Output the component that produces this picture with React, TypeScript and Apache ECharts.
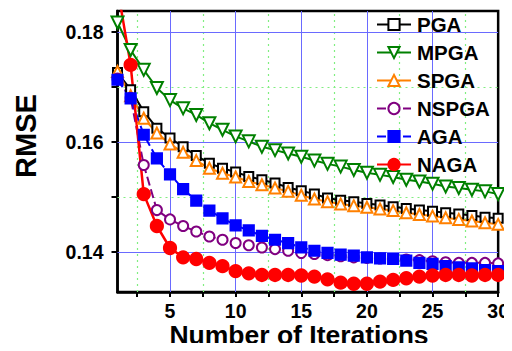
import React, { useEffect, useRef } from "react";
import * as echarts from "echarts";

const iterations = [1, 2, 3, 4, 5, 6, 7, 8, 9, 10, 11, 12, 13, 14, 15, 16, 17, 18, 19, 20, 21, 22, 23, 24, 25, 26, 27, 28, 29, 30];

const pga = [0.1726, 0.1695, 0.1655, 0.1625, 0.1607, 0.1591, 0.1575, 0.1561, 0.1552, 0.1545, 0.1537, 0.1531, 0.1525, 0.1517, 0.1511, 0.1505, 0.1498, 0.1494, 0.1491, 0.1488, 0.1485, 0.1482, 0.1479, 0.1476, 0.1474, 0.1471, 0.1469, 0.1466, 0.1463, 0.1461];
const mpga = [0.1817, 0.1767, 0.1731, 0.1698, 0.1676, 0.1661, 0.1649, 0.1634, 0.1622, 0.161, 0.1601, 0.1591, 0.1585, 0.1579, 0.1573, 0.1566, 0.156, 0.1555, 0.1549, 0.1544, 0.154, 0.1536, 0.1531, 0.1528, 0.1524, 0.1519, 0.1516, 0.1513, 0.151, 0.1505];
const spga = [0.1728, 0.1684, 0.1643, 0.1616, 0.1596, 0.1581, 0.1566, 0.1552, 0.1543, 0.1536, 0.1528, 0.1522, 0.1516, 0.151, 0.1503, 0.1496, 0.1491, 0.1487, 0.1484, 0.1481, 0.1478, 0.1475, 0.1471, 0.1468, 0.1465, 0.1462, 0.1459, 0.1456, 0.1453, 0.145];
const nspga = [0.1715, 0.168, 0.1558, 0.1476, 0.1459, 0.1447, 0.1437, 0.1428, 0.1422, 0.1416, 0.1412, 0.1408, 0.1405, 0.1402, 0.1398, 0.1396, 0.1394, 0.1392, 0.139, 0.1389, 0.1388, 0.1387, 0.1386, 0.1385, 0.1383, 0.1381, 0.138, 0.138, 0.138, 0.1379];
const aga = [0.1713, 0.1679, 0.1613, 0.157, 0.1541, 0.1514, 0.1493, 0.1475, 0.1461, 0.1448, 0.1439, 0.1429, 0.1422, 0.1416, 0.1408, 0.1402, 0.1398, 0.1395, 0.1393, 0.139, 0.1388, 0.1387, 0.1384, 0.138, 0.1378, 0.1374, 0.1372, 0.137, 0.1367, 0.1365];
const naga = [0.188, 0.174, 0.1505, 0.1447, 0.1407, 0.139, 0.1387, 0.138, 0.1374, 0.1365, 0.1361, 0.1358, 0.1358, 0.1358, 0.1357, 0.1355, 0.135, 0.1344, 0.1342, 0.1342, 0.1346, 0.1349, 0.1352, 0.1355, 0.1357, 0.1358, 0.1358, 0.1357, 0.1358, 0.1358];

const xTickLabels = [5, 10, 15, 20, 25, 30];
const xMinorTicks = [2.5, 7.5, 12.5, 17.5, 22.5, 27.5];
const yTickLabels = [0.14, 0.16, 0.18];
const yMinorTicks = [0.15, 0.17];

const seriesNames = ["PGA", "MPGA", "SPGA", "NSPGA", "AGA", "NAGA"];

const FONT = "'Liberation Sans', Arial, sans-serif";

function pairs(vals: number[]) {
  return iterations.map((x, i) => [x, vals[i]]);
}

export default function App() {
  const ref = useRef<HTMLDivElement>(null);
  useEffect(() => {
    if (!ref.current) return;
    const chart = echarts.init(ref.current, null, { renderer: "svg" });
    const majorLine = { type: "solid", color: "#6a6aff", width: 1 };
    const minorLine = { type: [2, 4], color: "#80ee80", width: 1.2 };
    const gridLines = [
      ...xTickLabels.filter((v) => v < 30).map((v) => ({ xAxis: v, lineStyle: majorLine })),
      ...xMinorTicks.map((v) => ({ xAxis: v, lineStyle: minorLine })),
      ...yTickLabels.map((v) => ({ yAxis: v, lineStyle: majorLine })),
      ...yMinorTicks.map((v) => ({ yAxis: v, lineStyle: minorLine })),
    ];
    const mk = (
      name: string,
      vals: number[],
      color: string,
      symbol: string,
      size: number,
      extra: any = {}
    ) => ({
      name,
      type: "line",
      data: pairs(vals),
      symbol,
      symbolSize: size,
      showAllSymbol: true,
      lineStyle: { color, width: 2, ...(extra.lineStyle || {}) },
      itemStyle: { color, borderColor: color, borderWidth: 2.2 },
      symbolRotate: extra.rotate || 0,
      z: extra.z || 2,
    });
    chart.setOption({
      animation: false,
      backgroundColor: "#fff",
      grid: {
        left: 117.5,
        right: 13,
        top: 11,
        bottom: 59,
        show: true,
        borderColor: "#000",
        borderWidth: 2.5,
        backgroundColor: "transparent",
      },
      legend: {
        orient: "vertical",
        left: 376,
        top: 14,
        padding: 0,
        itemWidth: 34,
        itemHeight: 14,
        itemGap: 7,
        data: seriesNames,
        textStyle: {
          fontFamily: FONT,
          fontWeight: "bold",
          fontSize: 20.5,
          lineHeight: 20,
          color: "#000",
          padding: [0, 0, 0, 1],
        },
      },
      xAxis: {
        type: "value",
        min: 1,
        max: 30,
        axisLine: { show: true, onZero: false, lineStyle: { color: "#000", width: 2.5 } },
        axisTick: {
          show: true,
          inside: false,
          length: 5,
          lineStyle: { color: "#000", width: 2 },
          customValues: [...xMinorTicks, ...xTickLabels].sort((a, b) => a - b),
        },
        axisLabel: {
          customValues: xTickLabels,
          margin: 8.5,
          fontFamily: FONT,
          fontWeight: "bold",
          fontSize: 19.5,
          color: "#000",
        },
        splitLine: { show: false },
      },
      yAxis: {
        type: "value",
        min: 0.1327,
        max: 0.1838,
        axisLine: { show: true, onZero: false, lineStyle: { color: "#000", width: 2.5 } },
        axisTick: {
          show: true,
          inside: false,
          length: 6,
          lineStyle: { color: "#000", width: 2 },
          customValues: [...yTickLabels, ...yMinorTicks].sort((a, b) => a - b),
        },
        axisLabel: {
          customValues: yTickLabels,
          margin: 14,
          fontFamily: FONT,
          fontWeight: "bold",
          fontSize: 19.5,
          color: "#000",
          formatter: (v: number) => v.toFixed(2),
        },
        splitLine: { show: false },
      },
      graphic: [
        {
          type: "text",
          x: 26,
          y: 136,
          rotation: Math.PI / 2,
          style: {
            text: "RMSE",
            font: `bold 29px ${FONT}`,
            fill: "#000",
            align: "center",
            verticalAlign: "middle",
          },
        },
        {
          type: "text",
          x: 299,
          y: 335,
          style: {
            text: "Number of Iterations",
            font: `bold 26.5px ${FONT}`,
            fill: "#000",
            align: "center",
            verticalAlign: "middle",
          },
        },
      ],
      series: [
        {
          type: "line",
          data: [],
          silent: true,
          markLine: {
            silent: true,
            z: 1,
            symbol: ["none", "none"],
            label: { show: false },
            emphasis: { disabled: true },
            data: gridLines,
          },
        },
        mk("PGA", pga, "#000000", "emptyRect", 9),
        mk("MPGA", mpga, "#008000", "emptyTriangle", 12, { rotate: 180 }),
        mk("SPGA", spga, "#ff8000", "emptyTriangle", 11),
        mk("NSPGA", nspga, "#800080", "emptyCircle", 10, { lineStyle: { type: [9, 4] } }),
        mk("AGA", aga, "#0000ff", "rect", 10, { lineStyle: { type: [9, 4] } }),
        mk("NAGA", naga, "#ff0000", "circle", 12, { lineStyle: { width: 2.5 } }),
      ],
    });
    return () => chart.dispose();
  }, []);
  return <div ref={ref} style={{ width: 512, height: 351, margin: -8 }} />;
}
